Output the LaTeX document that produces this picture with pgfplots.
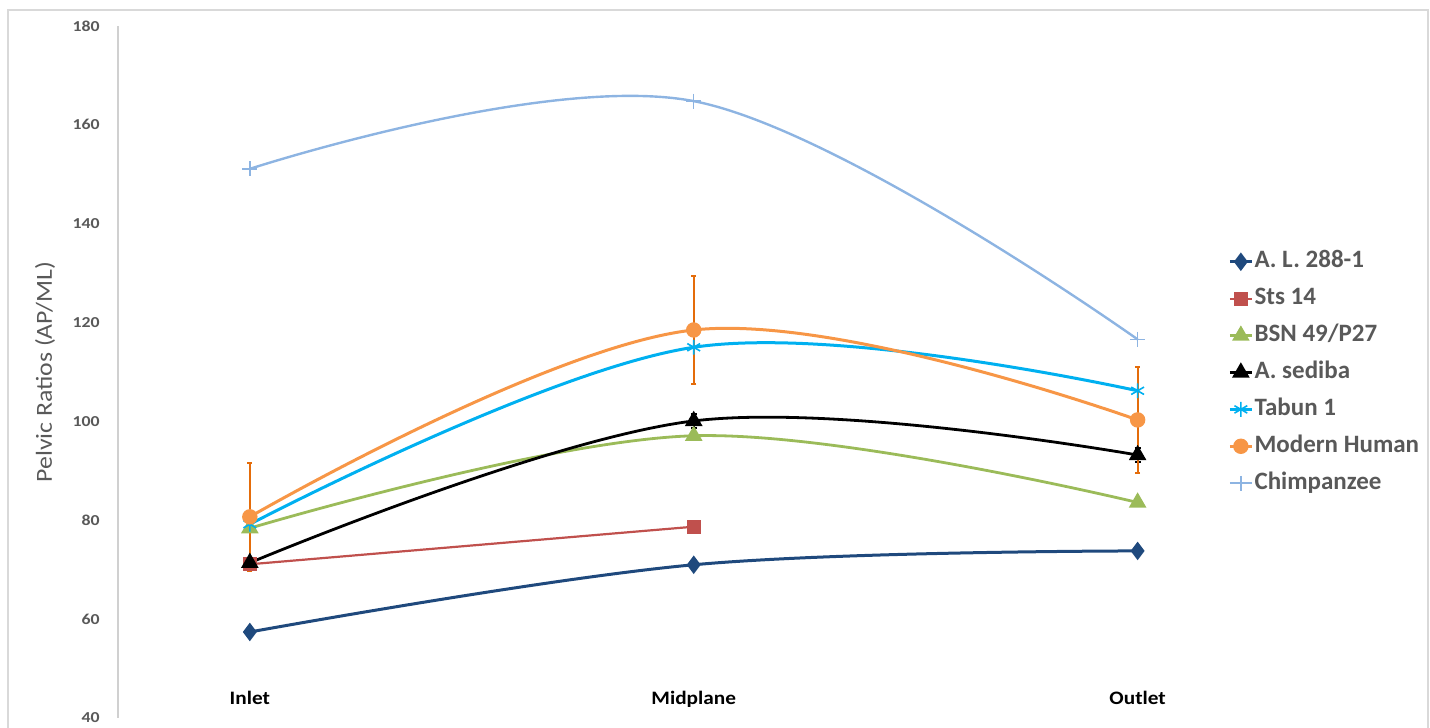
\documentclass[border=0pt]{standalone}
\usepackage{fontspec}
\setmainfont{Carlito}
\newfontfamily\tickfont[FakeStretch=1.17]{Carlito}
\newfontfamily\labfont[FakeStretch=1.12]{Carlito}
\usepackage{pgfplots}
\pgfplotsset{compat=1.18}
\definecolor{cAL}{HTML}{1F497D}
\definecolor{cSts}{HTML}{C0504D}
\definecolor{cBSN}{HTML}{9BBB59}
\definecolor{cTab}{HTML}{00B0F0}
\definecolor{cMod}{HTML}{F79646}
\definecolor{cErr}{HTML}{E46C0A}
\definecolor{cChimp}{HTML}{8DB4E2}
\definecolor{textgray}{HTML}{595959}
\definecolor{axisgray}{HTML}{D0D0D0}
\definecolor{framegray}{HTML}{D9D9D9}
\begin{document}
\begin{tikzpicture}
\useasboundingbox (-59pt,-5pt) rectangle (656pt,359pt);
\draw[color=framegray, line width=0.6pt] (-55pt,-12pt) rectangle (655pt,354pt);
\begin{axis}[
  at={(0,0)}, anchor=south west,
  scale only axis, width=532pt, height=346pt,
  xmin=-0.297, xmax=2.1, ymin=40, ymax=180,
  clip=false,
  axis lines=left,
  axis line style={-},
  x axis line style={draw=none},
  y axis line style={draw=axisgray, line width=0.8pt},
  major tick length=0pt,
  xtick={0,1,2},
  xticklabels={Inlet,Midplane,Outlet},
  ytick={40,60,...,180},
  /pgf/number format/assume math mode=true,
  yticklabel style={font=\tickfont\bfseries\fontsize{7.6}{8}\selectfont, text=textgray, anchor=east, inner sep=0pt, xshift=-9pt},
  xticklabel style={font=\labfont\bfseries\fontsize{9.5}{11}\selectfont, text=black, anchor=base, inner sep=0pt, yshift=6.5pt},
  ylabel={Pelvic Ratios (AP/ML)},
  every axis y label/.style={at={(axis description cs:-0.0686,0.5)}, rotate=90, anchor=center, font=\labfont\fontsize{11.5}{13}\selectfont, text=textgray},
  legend cell align=left,
  legend image code/.code={\draw[mark repeat=2,mark phase=2] plot coordinates {(0pt,0pt)(5.5pt,0pt)(11pt,0pt)};},
  legend style={at={(axis description cs:1.0432,0.4993)}, anchor=west, draw=none, fill=none,
    font=\bfseries\fontsize{12.5}{14}\selectfont, text=textgray, inner sep=0pt,
    nodes={inner sep=0.6pt, text height=9pt, text depth=3pt}, row sep=5.25pt},
]
\addplot[color=cAL, line width=1.5pt, smooth, tension=0.6, mark=diamond*, mark size=3.4pt, mark options={solid}]
  coordinates {(0,57.4) (1,71.0) (2,73.8)};
\addlegendentry{A. L. 288-1}
\addplot[color=cSts, line width=1.1pt, mark=square*, mark size=2.9pt, mark options={solid}]
  coordinates {(0,71.1) (1,78.7)};
\addlegendentry{Sts 14}
\addplot[color=cBSN, line width=1.4pt, smooth, tension=0.6, mark=triangle*, mark size=3.7pt, mark options={solid}]
  coordinates {(0,78.4) (1,97.1) (2,83.6)};
\addlegendentry{BSN 49/P27}
\addplot[color=black, line width=1.4pt, smooth, tension=0.6, mark=triangle*, mark size=3.7pt, mark options={solid},
  error bars/.cd, y dir=both, y explicit,
  error bar style={color=black, line width=1pt},
  error mark options={rotate=90, mark size=1.5pt, line width=1pt, color=black}]
  coordinates {(0,71.4) +- (0,0) (1,100.1) +- (0,1.4) (2,93.2) +- (0,1.4)};
\addlegendentry{A. sediba}
\addplot[color=cTab, line width=1.5pt, smooth, tension=0.6, mark=asterisk, mark size=3.7pt, mark options={solid, line width=0.8pt}]
  coordinates {(0,79.2) (1,115.0) (2,106.2)};
\addlegendentry{Tabun 1}
\addplot[color=cMod, line width=1.5pt, smooth, tension=0.6, mark=*, mark size=3.1pt, mark options={solid},
  error bars/.cd, y dir=both, y explicit,
  error bar style={color=cErr, line width=1pt},
  error mark options={rotate=90, mark size=1.3pt, line width=1pt, color=cErr}]
  coordinates {(0,80.7) +- (0,10.9) (1,118.5) +- (0,10.9) (2,100.3) +- (0,10.7)};
\addlegendentry{Modern Human}
\addplot[color=cChimp, line width=1.2pt, smooth, tension=0.6, mark=+, mark size=3.7pt, mark options={solid, line width=0.7pt}]
  coordinates {(0,151.1) (1,164.8) (2,116.6)};
\addlegendentry{Chimpanzee}
\end{axis}
\end{tikzpicture}
\end{document}
